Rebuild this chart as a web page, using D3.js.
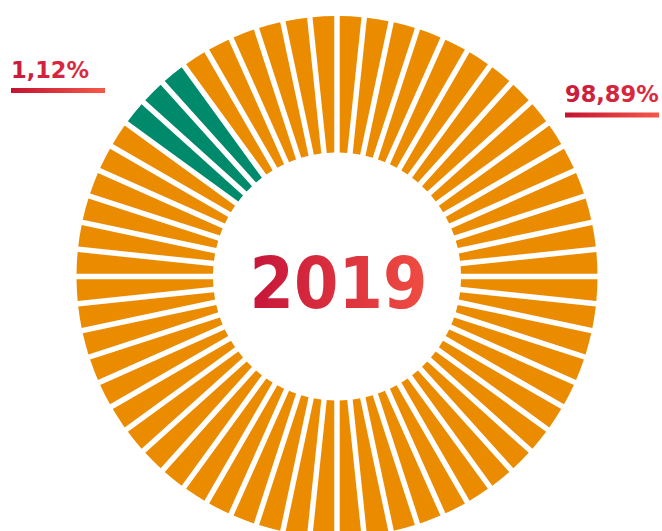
<!DOCTYPE html>
<html>
<head>
<meta charset="utf-8">
<script src="https://cdn.jsdelivr.net/npm/d3@7"></script>
<style>
	html, body { margin: 0; padding: 0; background: #fff; }
	svg { display: block; }
	text { font-family: "DejaVu Sans", sans-serif; font-weight: bold; }
	text.year { font-family: "DejaVu Sans Condensed", "DejaVu Sans", sans-serif; font-stretch: condensed; }
</style>
</head>
<body>
<div id="chart"></div>
<script>
// data
const YEAR = '2019';
const TOTAL_SEGMENTS = 60;
const HIGHLIGHT_SEGMENTS = [51, 52, 53];
const shareLabels = ['1,12%', '98,89%'];

const colors = { highlight: '#008a6c', rest: '#eb8c00' };

// dimension stuff
const width = 662;
const height = 531;
const cx = 337;
const cy = 276.5;
const outerR = 260.5;
const innerR = 124;

const $svg = d3.select('#chart')
	.append('svg')
	.attr('width', width)
	.attr('height', height);

const $defs = $svg.append('defs');

function addGradient(id, from, to) {
	const g = $defs.append('linearGradient')
		.attr('id', id)
		.attr('x1', '0%').attr('x2', '100%')
		.attr('y1', '0%').attr('y2', '0%');
	g.append('stop').attr('offset', '0%').attr('stop-color', from);
	g.append('stop').attr('offset', '100%').attr('stop-color', to);
}
addGradient('grad-year', '#c6153a', '#f04d42');
addGradient('grad-line', '#c41232', '#f5594a');
addGradient('grad-label', '#c91a3a', '#dc2e40');

// segments
const segments = d3.range(TOTAL_SEGMENTS).map(i => ({
	id: i,
	kind: HIGHLIGHT_SEGMENTS.includes(i) ? 'highlight' : 'rest'
}));

const pie = d3.pie().sort(null).value(1);
const arc = d3.arc()
	.innerRadius(innerR)
	.outerRadius(outerR)
	.padAngle(0.019);

const $vis = $svg.append('g')
	.attr('transform', `translate(${cx}, ${cy})`);

$vis.selectAll('path.segment')
	.data(pie(segments))
	.enter()
	.append('path')
	.attr('class', 'segment')
	.attr('d', arc)
	.attr('fill', d => colors[d.data.kind]);

// center year
$vis.append('text')
	.attr('class', 'year')
	.attr('x', 1.5)
	.attr('y', 31.5)
	.attr('text-anchor', 'middle')
	.attr('font-size', 71)
	.attr('fill', 'url(#grad-year)')
	.text(YEAR);

// share labels
const labelPos = [
	{ x: 11, y: 77.5, size: 22.5, lineX: 11, lineW: 94, lineY: 88 },
	{ x: 565, y: 101.5, size: 22.5, lineX: 565, lineW: 94, lineY: 112.5 }
];

const $labels = $svg.selectAll('g.share')
	.data(shareLabels)
	.enter()
	.append('g')
	.attr('class', 'share');

$labels.append('text')
	.attr('x', (d, i) => labelPos[i].x)
	.attr('y', (d, i) => labelPos[i].y)
	.attr('font-size', (d, i) => labelPos[i].size)
	.attr('fill', 'url(#grad-label)')
	.text(d => d);

$labels.append('rect')
	.attr('x', (d, i) => labelPos[i].lineX)
	.attr('y', (d, i) => labelPos[i].lineY)
	.attr('width', (d, i) => labelPos[i].lineW)
	.attr('height', 5)
	.attr('fill', 'url(#grad-line)');
</script>
</body>
</html>
